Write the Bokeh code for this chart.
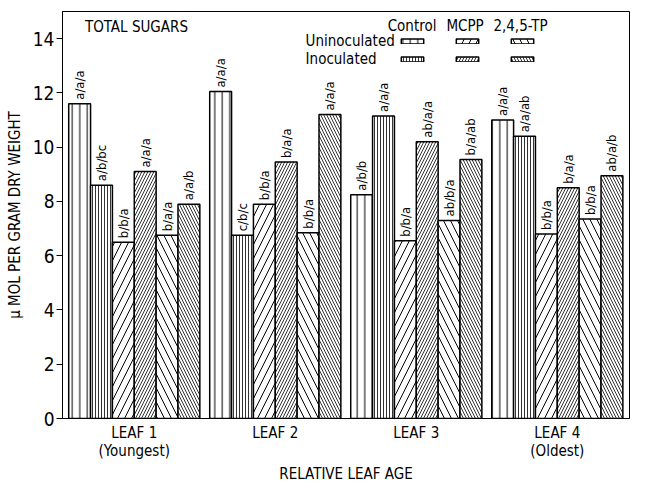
import numpy as np
from bokeh.plotting import figure
from bokeh.models import (ColumnDataSource, FixedTicker, Range1d, Label, Legend, LegendItem)
from bokeh.embed import file_html
from bokeh.resources import INLINE
from bokeh.core.properties import value

FONT = "DejaVu Sans Condensed"

# ---- data ----
leaf_ticks = [1, 2, 3, 4]
leaf_labels = ["LEAF 1\n(Youngest)", "LEAF 2", "LEAF 3", "LEAF 4\n(Oldest)"]
y_ticks = [0, 2, 4, 6, 8, 10, 12, 14]

control_un = [11.6, 12.05, 8.25, 11.0]
control_in = [8.6, 6.75, 11.15, 10.4]
mcpp_un = [6.5, 7.9, 6.55, 6.8]
mcpp_in = [9.1, 9.45, 10.2, 8.5]
tp_un = [6.75, 6.85, 7.3, 7.35]
tp_in = [7.9, 11.2, 9.55, 8.95]

control_un_lbl = ["a/a/a", "a/a/a", "a/b/b", "a/a/a"]
control_in_lbl = ["a/b/bc", "c/b/c", "a/a/a", "a/a/ab"]
mcpp_un_lbl = ["b/b/a", "b/b/a", "b/b/a", "b/b/a"]
mcpp_in_lbl = ["a/a/a", "b/a/a", "ab/a/a", "b/a/a"]
tp_un_lbl = ["b/a/a", "b/b/a", "ab/b/a", "b/b/a"]
tp_in_lbl = ["a/a/b", "a/a/a", "b/a/ab", "ab/a/b"]

treatments = ["Control", "MCPP", "2,4,5-TP"]
conditions = ["Uninoculated", "Inoculated"]

series = [
    (control_un, control_un_lbl, "|", 7.5, 1.0),
    (control_in, control_in_lbl, "|", 3, 0.8),
    (mcpp_un, mcpp_un_lbl, "/", 14, 1.0),
    (mcpp_in, mcpp_in_lbl, "/", 6, 0.8),
    (tp_un, tp_un_lbl, "\\", 14, 1.0),
    (tp_in, tp_in_lbl, "\\", 6, 0.8),
]

BW = 0.155
INK = "black"

p = figure(frame_width=567, frame_height=407, output_backend="svg", toolbar_location=None,
           x_range=Range1d(0.491, 4.512), y_range=Range1d(0, 15),
           min_border_left=62, min_border_right=2, min_border_top=11, min_border_bottom=60)
p.grid.visible = False
p.outline_line_color = INK
p.outline_line_width = 1
p.background_fill_color = "white"
p.border_fill_color = "white"

renderers = []
for i, (vals, lbls, pat, sc, wt) in enumerate(series):
    xs = np.array(leaf_ticks, dtype=float) + (i - 2.5) * BW
    src = ColumnDataSource(dict(x=xs, top=vals, lbl=lbls))
    r = p.vbar(x="x", top="top", width=BW, bottom=0, source=src,
               fill_color="white", line_color=INK, line_width=1.5,
               hatch_pattern=pat, hatch_scale=sc, hatch_weight=wt, hatch_color=INK)
    renderers.append(r)
    p.text(x="x", y="top", text="lbl", source=src, angle=np.pi / 2,
           text_align="left", text_baseline="middle", y_offset=-4,
           text_font=value(FONT), text_font_size=value("13px"), text_color=INK)

# axes
yax = p.yaxis[0]
yax.ticker = FixedTicker(ticks=y_ticks)
yax.minor_tick_line_color = None
yax.major_tick_in = 0
yax.major_tick_out = 6
yax.major_tick_line_color = INK
yax.major_label_standoff = 2
yax.axis_line_color = INK
yax.major_label_text_font = FONT
yax.major_label_text_font_size = "19px"
yax.major_label_text_color = INK
yax.axis_label = "\u00b5 MOL PER GRAM DRY WEIGHT"
yax.axis_label_text_font = FONT
yax.axis_label_text_font_size = "15px"
yax.axis_label_text_font_style = "normal"
yax.axis_label_text_color = INK
yax.axis_label_standoff = 6

xax = p.xaxis[0]
xax.ticker = FixedTicker(ticks=leaf_ticks)
xax.major_label_overrides = {t: l for t, l in zip(leaf_ticks, leaf_labels)}
xax.major_tick_line_color = None
xax.major_tick_out = 0
xax.major_tick_in = 0
xax.minor_tick_line_color = None
xax.major_label_standoff = 5
xax.axis_line_color = INK
xax.major_label_text_font = FONT
xax.major_label_text_font_size = "15px"
xax.major_label_text_line_height = 1.0
xax.major_label_text_color = INK
xax.axis_label = "RELATIVE LEAF AGE"
xax.axis_label_text_font = FONT
xax.axis_label_text_font_size = "15px"
xax.axis_label_text_font_style = "normal"
xax.axis_label_text_color = INK
xax.axis_label_standoff = 2

# title / legend texts
p.add_layout(Label(x=0.65, y=14.44, text="TOTAL SUGARS", text_font=FONT, text_color=INK,
                   text_font_size="15px", text_baseline="middle", text_align="left"))
for tx, name in zip([2.97, 3.346, 3.739], treatments):
    p.add_layout(Label(x=tx, y=14.48, text=name, text_font=FONT, text_font_size="15px",
                       text_color=INK, text_baseline="middle", text_align="center"))
for ty, name in zip([13.92, 13.25], conditions):
    p.add_layout(Label(x=2.215, y=ty, text=name, text_font=FONT, text_font_size="15px",
                       text_color=INK, text_baseline="middle", text_align="left"))

for row, vy in enumerate([374, 356]):
    items = [LegendItem(label=" ", renderers=[renderers[2 * k + row]]) for k in range(3)]
    leg = Legend(items=items, orientation="horizontal", location=(336, vy),
                 glyph_width=28, glyph_height=6, label_width=0, label_height=6,
                 label_standoff=0, label_text_font_size="1px", spacing=27,
                 padding=0, margin=0, border_line_color=None, background_fill_alpha=0)
    p.add_layout(leg)

open("out.html", "w").write(file_html(p, INLINE))
